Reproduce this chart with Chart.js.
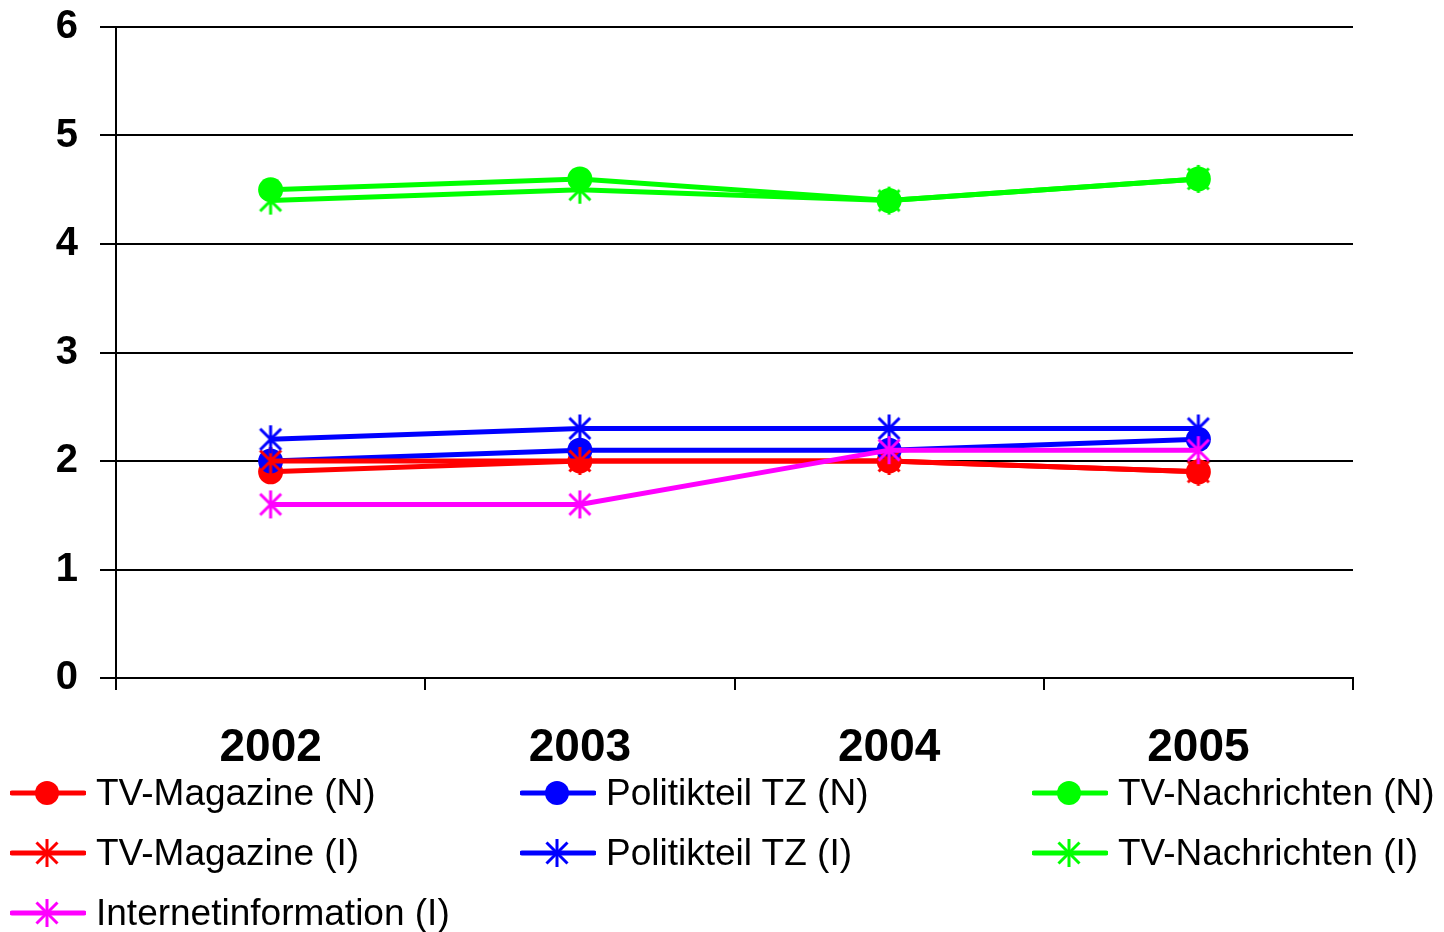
<!DOCTYPE html>
<html>
<head>
<meta charset="utf-8">
<script src="https://cdn.jsdelivr.net/npm/chart.js@4.4.1/dist/chart.umd.min.js"></script>
<style>
html,body{margin:0;padding:0;background:#fff;}
#wrap{position:relative;width:1444px;height:932px;overflow:hidden;}
#c{position:absolute;left:0;top:0;}
.lg{position:absolute;height:50px;display:flex;align-items:center;font-family:"Liberation Sans",Arial,sans-serif;font-size:37px;color:#000;white-space:nowrap;}
.lg svg{margin-right:10px;}
</style>
</head>
<body>
<div id="wrap">
<canvas id="c" width="1444" height="932"></canvas>
<div id="legend"></div>
</div>
<script>
const categories = ['2002', '2003', '2004', '2005'];
const seriesNames = ['TV-Magazine (N)', 'Politikteil TZ (N)', 'TV-Nachrichten (N)', 'TV-Magazine (I)', 'Politikteil TZ (I)', 'TV-Nachrichten (I)', 'Internetinformation (I)'];
const tvMagazineN = [1.9, 2.0, 2.0, 1.9];
const politikteilN = [2.0, 2.1, 2.1, 2.2];
const tvNachrichtenN = [4.5, 4.6, 4.4, 4.6];
const tvMagazineI = [2.0, 2.0, 2.0, 1.9];
const politikteilI = [2.2, 2.3, 2.3, 2.3];
const tvNachrichtenI = [4.4, 4.5, 4.4, 4.6];
const internetI = [1.6, 1.6, 2.1, 2.1];
const yTicks = [0, 1, 2, 3, 4, 5, 6];

const seriesValues = [tvMagazineN, politikteilN, tvNachrichtenN, tvMagazineI, politikteilI, tvNachrichtenI, internetI];
const seriesColors = ['#FF0000', '#0000FF', '#00FF00', '#FF0000', '#0000FF', '#00FF00', '#FF00FF'];
const seriesMarkers = ['circle', 'circle', 'circle', 'star', 'star', 'star', 'star'];

function starCanvas(color) {
  const s = 32, c = document.createElement('canvas');
  c.width = s; c.height = s;
  const g = c.getContext('2d');
  g.strokeStyle = color; g.lineWidth = 3; g.lineCap = 'butt';
  const m = s / 2, r = 14;
  g.beginPath();
  g.moveTo(m, m - r); g.lineTo(m, m + r);
  const d = r * 0.75;
  g.moveTo(m - d, m - d); g.lineTo(m + d, m + d);
  g.moveTo(m + d, m - d); g.lineTo(m - d, m + d);
  g.stroke();
  return c;
}

const datasets = seriesNames.map((name, i) => ({
  label: name,
  data: seriesValues[i],
  borderColor: seriesColors[i],
  backgroundColor: seriesColors[i],
  borderWidth: 5,
  pointStyle: seriesMarkers[i] === 'circle' ? 'circle' : starCanvas(seriesColors[i]),
  pointRadius: 12.5,
  pointBorderWidth: 0,
  pointBackgroundColor: seriesColors[i],
  tension: 0,
  order: seriesNames.length - i,
  clip: false
}));

new Chart(document.getElementById('c'), {
  type: 'line',
  data: { labels: categories, datasets },
  options: {
    responsive: false,
    animation: false,
    devicePixelRatio: 1,
    layout: { padding: { top: 27, right: 91, bottom: 170, left: 0 } },
    plugins: { legend: { display: false }, tooltip: { enabled: false } },
    scales: {
      x: {
        type: 'category',
        offset: true,
        grid: {
          offset: true,
          drawOnChartArea: true,
          color: ctx => (ctx.index === categories.length ? '#000' : 'rgba(0,0,0,0)'),
          lineWidth: 2,
          tickColor: '#000',
          tickLength: 12,
          tickWidth: 2
        },
        border: { color: '#000', width: 2 },
        ticks: {
          color: '#000',
          font: { family: '"Liberation Sans", Arial, sans-serif', size: 46, weight: 'bold' },
          padding: 31,
          maxRotation: 0,
          autoSkip: false
        },
        afterFit: s => { s.height = 84; s.paddingLeft = 0; s.paddingRight = 0; }
      },
      y: {
        min: 0, max: 6,
        afterBuildTicks: s => { s.ticks = yTicks.map(v => ({ value: v })); },
        grid: { color: '#000', lineWidth: 2, tickColor: '#000', tickLength: 16, tickWidth: 2 },
        border: { color: '#000', width: 2 },
        ticks: {
          color: '#000',
          font: { family: '"Liberation Sans", Arial, sans-serif', size: 40, weight: 'bold' },
          padding: 22
        },
        afterFit: s => { s.width = 116; s.paddingTop = 0; s.paddingBottom = 0; }
      }
    }
  }
});

// HTML legend
const legendPos = [
  [10, 768], [520, 768], [1032, 768],
  [10, 828], [520, 828], [1032, 828],
  [10, 888]
];
const legend = document.getElementById('legend');
seriesNames.forEach((name, i) => {
  const d = document.createElement('div');
  d.className = 'lg';
  d.style.left = legendPos[i][0] + 'px';
  d.style.top = legendPos[i][1] + 'px';
  const col = seriesColors[i];
  let marker;
  if (seriesMarkers[i] === 'circle') {
    marker = `<circle cx="37" cy="25" r="12" fill="${col}"/>`;
  } else {
    const r = 14, dd = r * 0.75;
    marker = `<g stroke="${col}" stroke-width="3"><line x1="37" y1="${25 - r}" x2="37" y2="${25 + r}"/><line x1="${37 - dd}" y1="${25 - dd}" x2="${37 + dd}" y2="${25 + dd}"/><line x1="${37 + dd}" y1="${25 - dd}" x2="${37 - dd}" y2="${25 + dd}"/></g>`;
  }
  d.innerHTML = `<svg width="76" height="50"><line x1="2" y1="25" x2="74" y2="25" stroke="${col}" stroke-width="5" stroke-linecap="round"/>${marker}</svg><span>${name}</span>`;
  legend.appendChild(d);
});
</script>
</body>
</html>
